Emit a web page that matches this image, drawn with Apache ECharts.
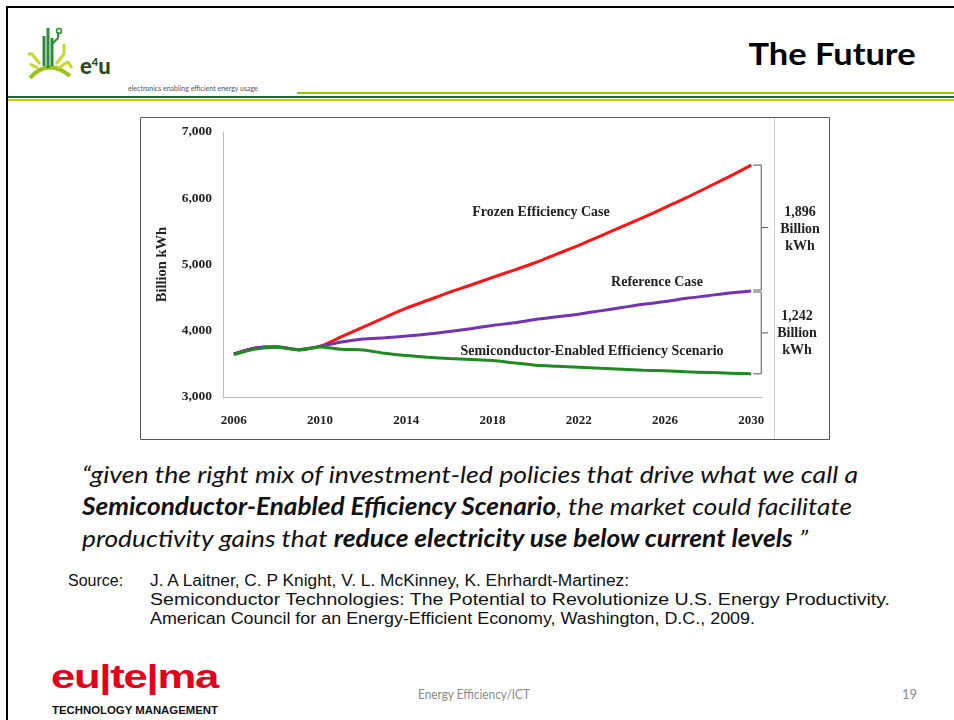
<!DOCTYPE html>
<html>
<head>
<meta charset="utf-8">
<script src="https://cdn.jsdelivr.net/npm/echarts@6/dist/echarts.min.js"></script>
<style>
  body { margin: 0; width: 954px; height: 720px; position: relative; background: #fff; overflow: hidden; font-family: Lato, "Open Sans", sans-serif; }
  .abs { position: absolute; white-space: nowrap; }
  .fit { display: inline-block; transform-origin: left center; }
  .quote { font-family: Lato, sans-serif; font-style: italic; font-size: 24px; color: #111; }
  .src { font-family: "Liberation Sans", Arial, sans-serif; font-size: 16px; color: #111; }
</style>
</head>
<body>
<!-- slide frame -->
<div class="abs" style="left:6px;top:6px;width:948px;height:2px;background:#000"></div>
<div class="abs" style="left:6px;top:6px;width:2px;height:714px;background:#000"></div>
<!-- header lines -->
<div class="abs" style="left:297px;top:92px;width:657px;height:2px;background:#99c400"></div>
<div class="abs" style="left:8px;top:96px;width:946px;height:2px;background:#1b6a2c"></div>
<div class="abs" style="left:8px;top:99px;width:946px;height:2px;background:#cccc00"></div>

<!-- e4u logo -->
<svg class="abs" style="left:26px;top:24px" width="60" height="60" viewBox="0 0 60 60">
  <path d="M4 54 Q22 34 44 52" fill="none" stroke="#9ac31c" stroke-width="4"/>
  <path d="M18 42 L18 12 M22 44 L22 4 M26 42 L26 14" fill="none" stroke="#2e8b3a" stroke-width="3"/>
  <path d="M14 40 L6 30 L2 30 M12 44 L4 40" fill="none" stroke="#c5d82e" stroke-width="3"/>
  <path d="M30 40 L38 30 L38 20 M32 44 L42 38 L46 44" fill="none" stroke="#c5d82e" stroke-width="3"/>
  <path d="M26 20 L32 14 L32 8" fill="none" stroke="#2e8b3a" stroke-width="2"/>
  <circle cx="33" cy="7" r="2.5" fill="none" stroke="#2e8b3a" stroke-width="1.5"/>
</svg>
<div class="abs" style="left:80px;top:52px;font-family:Lato,sans-serif;font-weight:900;font-size:22px;color:#2a4a1a">e<sup style="font-size:11px">4</sup>u</div>
<div class="abs" style="left:128px;top:84px;font-family:Lato,sans-serif;font-size:7px;color:#555">electronics enabling efficient energy usage</div>

<!-- title -->
<div class="abs" style="right:38px;top:34px;font-family:Lato,sans-serif;font-weight:700;font-size:31px;color:#000"><span class="fit" id="title" data-w="167" style="transform-origin:right center">The Future</span></div>

<!-- chart -->
<div id="chart" class="abs" style="left:140px;top:117px;width:690px;height:323px"></div>

<!-- quote -->
<div class="abs quote" style="left:82px;top:459px"><span class="fit" data-w="776">“given the right mix of investment-led policies that drive what we call a</span></div>
<div class="abs quote" style="left:82px;top:491px"><span class="fit" data-w="770"><b>Semiconductor-Enabled Efficiency Scenario</b>, the market could facilitate</span></div>
<div class="abs quote" style="left:82px;top:523px"><span class="fit" data-w="726">productivity gains that <b>reduce electricity use below current levels</b> ”</span></div>

<!-- source -->
<div class="abs src" style="left:68px;top:572px">Source:</div>
<div class="abs src" style="left:150px;top:572px"><span class="fit" data-w="479">J. A Laitner, C. P Knight, V. L. McKinney, K. Ehrhardt-Martinez:</span></div>
<div class="abs src" style="left:150px;top:591px"><span class="fit" data-w="740">Semiconductor Technologies: The Potential to Revolutionize U.S. Energy Productivity.</span></div>
<div class="abs src" style="left:150px;top:610px"><span class="fit" data-w="605">American Council for an Energy-Efficient Economy, Washington, D.C., 2009.</span></div>

<!-- footer -->
<div class="abs" style="left:51px;top:657px;font-family:'Liberation Sans',Arial,sans-serif;font-weight:700;font-size:34px;color:#e2001a;letter-spacing:-1px"><span class="fit" data-w="167">eu|te|ma</span></div>
<div class="abs" style="left:52px;top:705px;font-family:'Liberation Sans',Arial,sans-serif;font-weight:700;font-size:10px;color:#111"><span class="fit" data-w="166">TECHNOLOGY MANAGEMENT</span></div>
<div class="abs" style="left:418px;top:686px;font-family:Lato,sans-serif;font-size:13px;color:#8a8a8a"><span class="fit" data-w="112">Energy Efficiency/ICT</span></div>
<div class="abs" style="left:902px;top:686px;font-family:Lato,sans-serif;font-size:13px;color:#8a8a8a">19</div>

<script>
// data (billion kWh)
var years = ['2006','2007','2008','2009','2010','2011','2012','2013','2014','2015','2016','2017','2018',
             '2019','2020','2021','2022','2023','2024','2025','2026','2027','2028','2029','2030'];
var frozenCase = [3650,3740,3760,3715,3765,3910,4055,4200,4340,4460,4580,4690,4805,
                  4915,5030,5160,5290,5430,5570,5710,5860,6010,6170,6330,6500];
var referenceCase = [3650,3740,3760,3715,3765,3830,3875,3895,3920,3950,3990,4030,4080,
                     4120,4170,4210,4250,4300,4350,4400,4440,4490,4530,4570,4600];
var semiScenario = [3640,3725,3750,3710,3755,3720,3710,3660,3625,3600,3580,3565,3550,
                    3515,3480,3465,3450,3435,3420,3405,3395,3380,3370,3360,3350];
var yTicks = [3000, 4000, 5000, 6000, 7000];
var gapTop = '1,896';
var gapBottom = '1,242';

// squeeze text lines to the widths in the slide
document.querySelectorAll('.fit').forEach(function (el) {
  var w = +el.getAttribute('data-w');
  var cur = el.getBoundingClientRect().width;
  if (cur > 0) el.style.transform = 'scaleX(' + (w / cur) + ')';
});

var serif = '"Liberation Serif", "Times New Roman", serif';
var myChart = echarts.init(document.getElementById('chart'));

var option = {
  animation: false,
  grid: { left: 83, right: 68, top: 15, bottom: 43 },
  xAxis: {
    type: 'category',
    data: years,
    boundaryGap: true,
    axisLine: { lineStyle: { color: '#bdbdbd', width: 1 } },
    axisTick: { show: false },
    axisLabel: { interval: 3, margin: 17, fontFamily: serif, fontWeight: 'bold', fontSize: 13, color: '#222' }
  },
  yAxis: {
    type: 'value',
    min: yTicks[0],
    max: yTicks[yTicks.length - 1],
    interval: 1000,
    name: 'Billion kWh',
    nameLocation: 'middle',
    nameRotate: 90,
    nameGap: 53,
    nameTextStyle: { fontFamily: serif, fontWeight: 'bold', fontSize: 14.5, color: '#222' },
    axisLine: { show: true, lineStyle: { color: '#bdbdbd', width: 1 } },
    axisTick: { show: false },
    splitLine: { show: false },
    axisLabel: {
      margin: 11, fontFamily: serif, fontWeight: 'bold', fontSize: 13.5, color: '#222',
      formatter: function (v) { return v.toLocaleString('en-US'); }
    }
  },
  series: [
    { name: 'Frozen Efficiency Case', type: 'line', data: frozenCase, smooth: 0.25, symbol: 'none', z: 2,
      lineStyle: { color: '#ff1414', width: 3 } },
    { name: 'Reference Case', type: 'line', data: referenceCase, smooth: 0.25, symbol: 'none', z: 3,
      lineStyle: { color: '#7333b3', width: 3 } },
    { name: 'Semiconductor-Enabled Efficiency Scenario', type: 'line', data: semiScenario, smooth: 0.25, symbol: 'none', z: 4,
      lineStyle: { color: '#1f8a1f', width: 3 } }
  ]
};
myChart.setOption(option);

// annotations: frame, divider, series labels and brackets
var last = years.length - 1;
var pRed = myChart.convertToPixel({ seriesIndex: 0 }, [last, frozenCase[last]]);
var pPur = myChart.convertToPixel({ seriesIndex: 1 }, [last, referenceCase[last]]);
var pGrn = myChart.convertToPixel({ seriesIndex: 2 }, [last, semiScenario[last]]);
var bx = pRed[0] + 10;

function bracket(y1, y2) {
  return {
    type: 'polyline',
    shape: { points: [[pRed[0] + 2, y1], [bx, y1], [bx, y2], [pRed[0] + 2, y2]] },
    style: { stroke: '#555', lineWidth: 1, fill: null }
  };
}
function tick(y1, y2) {
  var mid = (y1 + y2) / 2;
  return { type: 'line', shape: { x1: bx, y1: mid, x2: bx + 7, y2: mid }, style: { stroke: '#555', lineWidth: 1 } };
}
function label(txt, x, y) {
  return { type: 'text', x: x, y: y,
    style: { text: txt, fontFamily: serif, fontWeight: 'bold', fontSize: 14, fill: '#222', align: 'center', verticalAlign: 'middle', lineHeight: 17 } };
}

myChart.setOption({
  graphic: [
    { type: 'rect', shape: { x: 0.5, y: 0.5, width: 689, height: 322 }, style: { fill: null, stroke: '#555', lineWidth: 1 } },
    { type: 'line', shape: { x1: 634.5, y1: 1, x2: 634.5, y2: 322 }, style: { stroke: '#cfcfcf', lineWidth: 1 } },
    label('Frozen Efficiency Case', 401, 95),
    label('Reference Case', 517, 165),
    label('Semiconductor-Enabled Efficiency Scenario', 452, 234),
    bracket(pRed[1], pPur[1] - 1),
    tick(pRed[1], pPur[1] - 1),
    bracket(pPur[1] + 1, pGrn[1]),
    tick(pPur[1] + 1, pGrn[1]),
    label(gapTop + '\nBillion\nkWh', 660, 112),
    label(gapBottom + '\nBillion\nkWh', 657, 216)
  ]
});
</script>
</body>
</html>
